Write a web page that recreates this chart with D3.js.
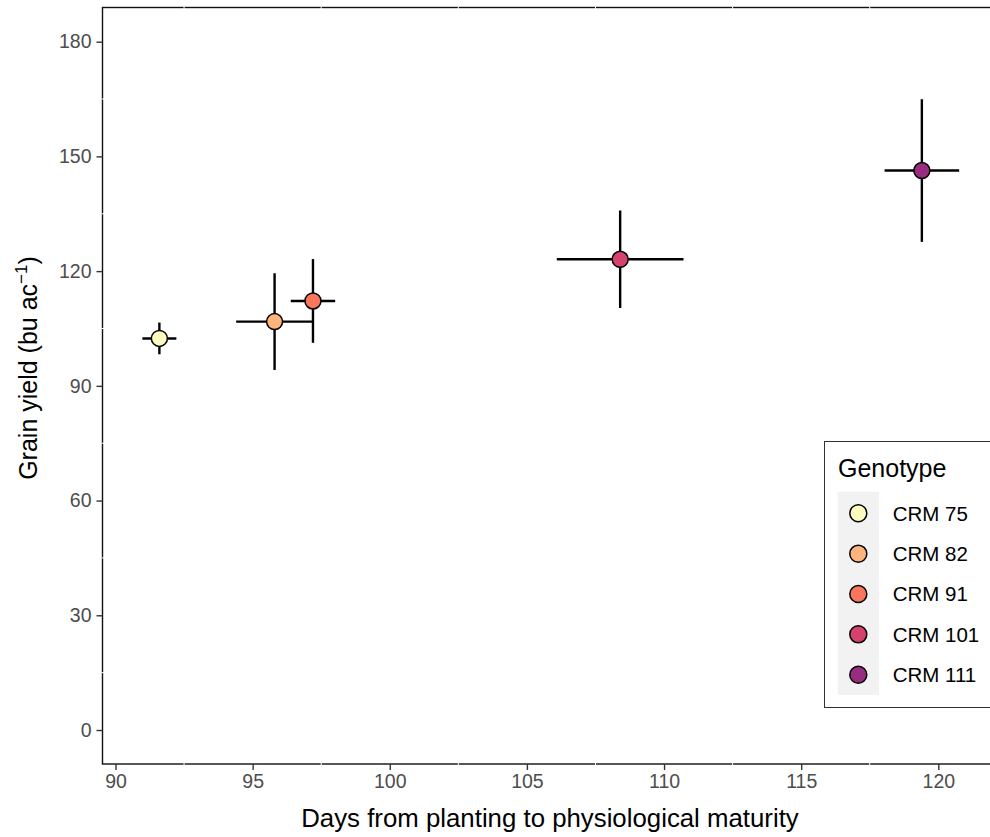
<!DOCTYPE html>
<html>
<head>
<meta charset="utf-8">
<script src="https://cdn.jsdelivr.net/npm/d3@7"></script>
<style>
  html, body { margin: 0; padding: 0; background: #fff; }
  svg { display: block; font-family: "Liberation Sans", Arial, Helvetica, sans-serif; }
</style>
</head>
<body>
<svg id="chart" width="990" height="837"></svg>
<script>
// ---- data ----
const genotypes = ["CRM 75", "CRM 82", "CRM 91", "CRM 101", "CRM 111"];
const days      = [91.6, 95.8, 97.2, 108.4, 119.4];
const daysErr   = [0.62, 1.4, 0.81, 2.31, 1.36];
const yields    = [102.4, 106.8, 112.2, 123.1, 146.3];
const yieldErr  = [4.15, 12.65, 10.95, 12.75, 18.65];
const colors    = ["#FCFDBF", "#FEB47B", "#F8765C", "#D3436E", "#982D80"];
const xTicks    = [90, 95, 100, 105, 110, 115, 120];
const yTicks    = [0, 30, 60, 90, 120, 150, 180];
const xMinor    = [92.5, 97.5, 102.5, 107.5, 112.5, 117.5, 122.5];
const yMinor    = [15, 45, 75, 105, 135, 165];

const data = genotypes.map((g, i) => ({
  g, x: days[i], xe: daysErr[i], y: yields[i], ye: yieldErr[i], c: colors[i]
}));

const svg = d3.select("#chart");
const panel = { left: 102.5, top: 7.5, right: 998, bottom: 764 };

const x = d3.scaleLinear().domain([89.508, 122.176]).range([102, 998]);
const y = d3.scaleLinear().domain([-8.89, 189.07]).range([764, 7]);

// panel border
svg.append("rect")
  .attr("x", panel.left).attr("y", panel.top)
  .attr("width", panel.right - panel.left).attr("height", panel.bottom - panel.top)
  .attr("fill", "#fff").attr("stroke", "#111").attr("stroke-width", 1.4);

// white minor grid (visible only as gaps in the border)
const g0 = svg.append("g");
g0.selectAll(".mx").data(xMinor).join("line")
  .attr("x1", d => x(d)).attr("x2", d => x(d))
  .attr("y1", panel.top - 1).attr("y2", panel.bottom + 1)
  .attr("stroke", "#fff").attr("stroke-width", 1);
g0.selectAll(".my").data(yMinor).join("line")
  .attr("y1", d => y(d)).attr("y2", d => y(d))
  .attr("x1", panel.left - 1).attr("x2", panel.right + 1)
  .attr("stroke", "#fff").attr("stroke-width", 1);

// axes
const xAxis = d3.axisBottom(x).tickValues(xTicks).tickSize(6).tickPadding(4).tickFormat(d3.format("d"));
const gx = svg.append("g").attr("transform", `translate(0,${panel.bottom})`).call(xAxis);
gx.select(".domain").remove();
gx.selectAll(".tick line").attr("stroke", "#333").attr("stroke-width", 1.4);
gx.selectAll(".tick text").attr("fill", "#4D4D4D").attr("font-size", 19.5)
  .attr("font-family", "Liberation Sans, Arial, sans-serif");

const yAxis = d3.axisLeft(y).tickValues(yTicks).tickSize(6).tickPadding(5).tickFormat(d3.format("d"));
const gy = svg.append("g").attr("transform", `translate(${panel.left},0)`).call(yAxis);
gy.select(".domain").remove();
gy.selectAll(".tick line").attr("stroke", "#333").attr("stroke-width", 1.4);
gy.selectAll(".tick text").attr("fill", "#4D4D4D").attr("font-size", 19.5)
  .attr("font-family", "Liberation Sans, Arial, sans-serif");

// axis titles
svg.append("text")
  .attr("x", 550).attr("y", 827)
  .attr("text-anchor", "middle").attr("font-size", 25.8).attr("fill", "#000")
  .text("Days from planting to physiological maturity");

const yt = svg.append("text")
  .attr("transform", "translate(37,368) rotate(-90)")
  .attr("text-anchor", "middle").attr("font-size", 25).attr("fill", "#000");
yt.append("tspan").text("Grain yield (bu ac");
yt.append("tspan").attr("dy", -10).attr("font-size", 17).text("\u22121");
yt.append("tspan").attr("dy", 10).text(")");

// error bars
const gd = svg.append("g");
gd.selectAll(".eh").data(data).join("line")
  .attr("x1", d => x(d.x - d.xe)).attr("x2", d => x(d.x + d.xe))
  .attr("y1", d => y(d.y)).attr("y2", d => y(d.y))
  .attr("stroke", "#000").attr("stroke-width", 2.4);
gd.selectAll(".ev").data(data).join("line")
  .attr("x1", d => x(d.x)).attr("x2", d => x(d.x))
  .attr("y1", d => y(d.y - d.ye)).attr("y2", d => y(d.y + d.ye))
  .attr("stroke", "#000").attr("stroke-width", 2.4);
gd.selectAll("circle").data(data).join("circle")
  .attr("cx", d => x(d.x)).attr("cy", d => y(d.y)).attr("r", 8)
  .attr("fill", d => d.c).attr("stroke", "#000").attr("stroke-width", 1.5);

// legend
const lg = svg.append("g");
lg.append("rect").attr("x", 824.5).attr("y", 441.5).attr("width", 200).attr("height", 266)
  .attr("fill", "#fff").attr("stroke", "#333").attr("stroke-width", 1);
lg.append("text").attr("x", 838).attr("y", 476.5).attr("font-size", 25).attr("fill", "#000").text("Genotype");
lg.append("rect").attr("x", 837.7).attr("y", 491.7).attr("width", 41.3).attr("height", 203.3).attr("fill", "#F2F2F2");
const ly = d3.scalePoint().domain(genotypes).range([513.3, 674.7]);
const items = lg.selectAll(".item").data(data).join("g")
  .attr("transform", d => `translate(0,${ly(d.g)})`);
items.append("circle").attr("cx", 858.3).attr("cy", 0).attr("r", 8.5)
  .attr("fill", d => d.c).attr("stroke", "#000").attr("stroke-width", 1.5);
items.append("text").attr("x", 892.7).attr("y", 0).attr("dy", "0.36em")
  .attr("font-size", 20.5).attr("fill", "#000").text(d => d.g);
</script>
</body>
</html>
